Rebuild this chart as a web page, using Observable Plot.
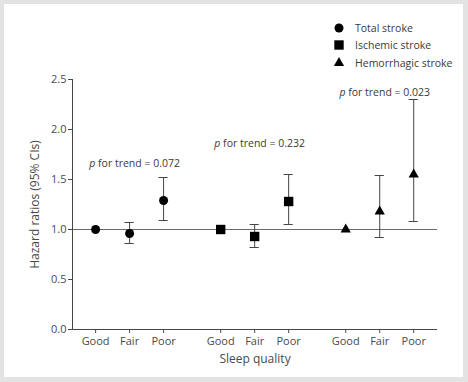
<!DOCTYPE html>
<html><head><meta charset="utf-8">
<script src="https://cdn.jsdelivr.net/npm/d3@7"></script>
<script src="https://cdn.jsdelivr.net/npm/@observablehq/plot@0.6"></script>
<style>
body{margin:0;}
#wrap{position:relative;width:468px;height:382px;background:#e3e3e3;overflow:hidden;font-family:"Open Sans",sans-serif;}
#panel{position:absolute;left:4px;top:4px;width:459px;height:373px;background:#fff;}
#chart{position:absolute;left:0;top:0;}
#legend{position:absolute;left:332px;top:19px;font-size:10.5px;color:#3a3a3a;}
.row{display:flex;align-items:center;height:17.5px;white-space:nowrap;}
.row svg{width:14px;height:14px;margin-right:9px;flex:none;}
</style></head>
<body><div id="wrap"><div id="panel"></div><div id="chart"></div><div id="legend"></div></div>
<script>
// ---- data ----
const groups = ["Total stroke", "Ischemic stroke", "Hemorrhagic stroke"];
const symbols = ["circle", "square", "triangle"];
const quality = ["Good", "Fair", "Poor"];
const hrTotal = [1.00, 0.96, 1.29];
const hrIschemic = [1.00, 0.93, 1.28];
const hrHemorrhagic = [1.00, 1.18, 1.55];
const loTotal = [null, 0.86, 1.09];
const loIschemic = [null, 0.82, 1.05];
const loHemorrhagic = [null, 0.92, 1.08];
const hiTotal = [null, 1.07, 1.52];
const hiIschemic = [null, 1.05, 1.55];
const hiHemorrhagic = [null, 1.54, 2.30];
const trendP = ["0.072", "0.232", "0.023"];
const trendY = [1.66, 1.86, 2.37];
const yTicks = [0, 0.5, 1.0, 1.5, 2.0, 2.5];

// ---- layout ----
const hr = [hrTotal, hrIschemic, hrHemorrhagic];
const lo = [loTotal, loIschemic, loHemorrhagic];
const hi = [hiTotal, hiIschemic, hiHemorrhagic];
const groupStep = 3.68;
const xMin = -0.68, xMax = 10.06;
const rows = [];
groups.forEach((g, gi) => quality.forEach((q, qi) => rows.push({
  group: g, gi, quality: q, x: gi * groupStep + qi,
  hr: hr[gi][qi], lo: lo[gi][qi], hi: hi[gi][qi]
})));
const ciRows = rows.filter(d => d.lo != null);
const labelByX = new Map(rows.map(d => [d.x, d.quality]));
const trend = groups.map((g, gi) => ({x: gi * groupStep + 1, y: trendY[gi], text: "p for trend = " + trendP[gi]}));
const cap = 0.135;
const lineColor = "#454545";
const sizes = [4.5, 5.3, 3.8];

const plot = Plot.plot({
  width: 468, height: 382,
  marginLeft: 72, marginRight: 31, marginTop: 79, marginBottom: 53,
  style: {fontFamily: '"Open Sans", sans-serif', fontSize: "11px", color: "#4a4a4a", background: "transparent", overflow: "visible"},
  x: {type: "linear", domain: [xMin, xMax]},
  y: {domain: [0, 2.5]},
  marks: [
    Plot.ruleY([1], {stroke: "#6a6a6a", strokeWidth: 1}),
    Plot.ruleX([xMin], {stroke: lineColor}),
    Plot.ruleY([0], {stroke: lineColor}),
    Plot.axisY({ticks: yTicks, tickFormat: d3.format(".1f"), tickSize: 4, tickPadding: 2, label: null}),
    Plot.axisX({ticks: rows.map(d => d.x), tickFormat: d => labelByX.get(d), tickSize: 4, tickPadding: 4, label: null}),
    Plot.ruleX(ciRows, {x: "x", y1: "lo", y2: "hi", stroke: lineColor}),
    Plot.ruleY(ciRows, {y: "lo", x1: d => d.x - cap, x2: d => d.x + cap, stroke: lineColor}),
    Plot.ruleY(ciRows, {y: "hi", x1: d => d.x - cap, x2: d => d.x + cap, stroke: lineColor}),
    ...groups.map((g, gi) => Plot.dot(rows.filter(d => d.gi === gi), {x: "x", y: "hr", symbol: symbols[gi], r: sizes[gi], fill: "#000", stroke: "none"})),
    Plot.text(trend, {x: "x", y: "y", text: "text", fontSize: 10.5, dx: 5, textAnchor: "middle", lineAnchor: "middle", fill: "#3a3a3a"}),
    Plot.text(["Sleep quality"], {frameAnchor: "bottom", dy: 30, fontSize: 12, textAnchor: "middle", lineAnchor: "middle"}),
    Plot.text(["Hazard ratios (95% CIs)"], {frameAnchor: "left", dx: -37, rotate: -90, fontSize: 12, textAnchor: "middle", lineAnchor: "middle"})
  ]
});
document.getElementById("chart").appendChild(plot);

// italic "p"
d3.select(plot).selectAll("text").filter(function() { return this.textContent.startsWith("p for trend"); })
  .each(function() {
    const rest = this.textContent.slice(1);
    const t = d3.select(this);
    t.text(null);
    t.append("tspan").attr("font-style", "italic").text("p");
    t.append("tspan").text(rest);
  });

// legend
const legend = d3.select("#legend");
groups.forEach((g, gi) => {
  const row = legend.append("div").attr("class", "row");
  const svg = row.append("svg").attr("viewBox", "-7 -7 14 14");
  const type = {circle: d3.symbolCircle, square: d3.symbolSquare, triangle: d3.symbolTriangle}[symbols[gi]];
  svg.append("path").attr("d", d3.symbol(type, Math.PI * sizes[gi] * sizes[gi])()).attr("fill", "#000");
  row.append("span").text(g);
});
</script>
</body></html>
